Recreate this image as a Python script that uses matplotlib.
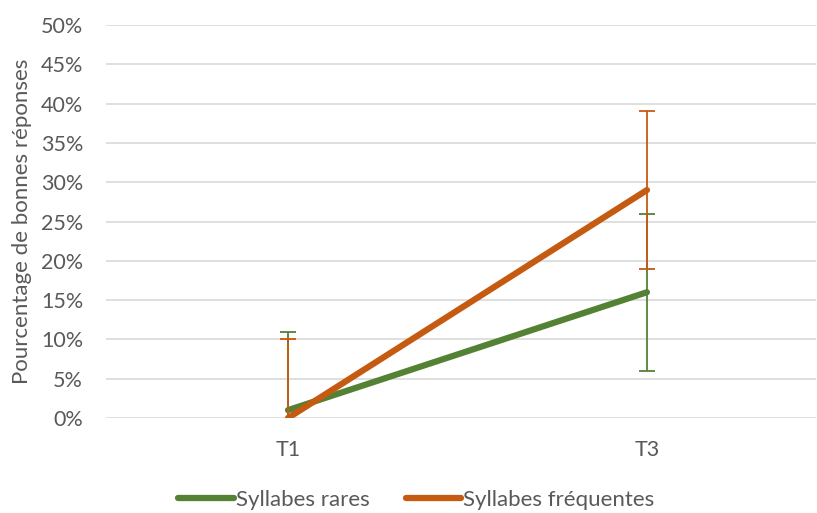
import matplotlib
matplotlib.use("Agg")
import matplotlib.pyplot as plt
from matplotlib.ticker import FuncFormatter

plt.rcParams['font.family'] = ['Lato', 'DejaVu Sans']

categories = ["T1", "T3"]
rares = [1, 16]
frequentes = [0, 29]
err_rares = [10, 10]
err_freq = [10, 10]
yticks = [0, 5, 10, 15, 20, 25, 30, 35, 40, 45, 50]

green = "#548235"
orange = "#C55A11"
txt = "#595959"

W, H = 817, 513
fig = plt.figure(figsize=(W/100, H/100), dpi=100)
ax = fig.add_axes([106/W, 95/H, (816-106)/W, (418-25)/H])

x = list(range(len(categories)))
ax.plot(x, rares, color=green, lw=4.5, solid_capstyle='round', label="Syllabes rares", zorder=3)
ax.plot(x, frequentes, color=orange, lw=4.5, solid_capstyle='round', label="Syllabes fréquentes", zorder=3)
ax.errorbar(x, rares, yerr=err_rares, fmt='none', ecolor=green, elinewidth=1.3, capsize=6, capthick=1.3, zorder=4)
ax.errorbar(x, frequentes, yerr=err_freq, fmt='none', ecolor=orange, elinewidth=1.3, capsize=6, capthick=1.3, zorder=4)

ax.set_xlim(-0.507, 1.471)
ax.set_ylim(0, 50)
ax.set_yticks(yticks)
ax.yaxis.set_major_formatter(FuncFormatter(lambda v, p: f"{int(v)}%"))
ax.set_xticks(x)
ax.set_xticklabels(categories)
ax.grid(axis='y', color="#D9D9D9", lw=1.2, zorder=0)
ax.set_axisbelow(True)
for s in ax.spines.values():
    s.set_visible(False)
ax.tick_params(axis='both', length=0, colors=txt, labelsize=15.5)
ax.tick_params(axis='y', pad=16.5)
ax.tick_params(axis='x', pad=16)
ax.set_ylabel("Pourcentage de bonnes réponses", color=txt, fontsize=16)
ax.yaxis.set_label_coords((32-106)/710, 0.5)

leg = fig.legend(loc='center', bbox_to_anchor=(0.5 + 8/W, 13/H), ncol=2, frameon=False,
                 fontsize=16, handlelength=2.5, handletextpad=0.1, columnspacing=1.6)
for t in leg.get_texts():
    t.set_color(txt)

fig.savefig("out.png", dpi=100)
